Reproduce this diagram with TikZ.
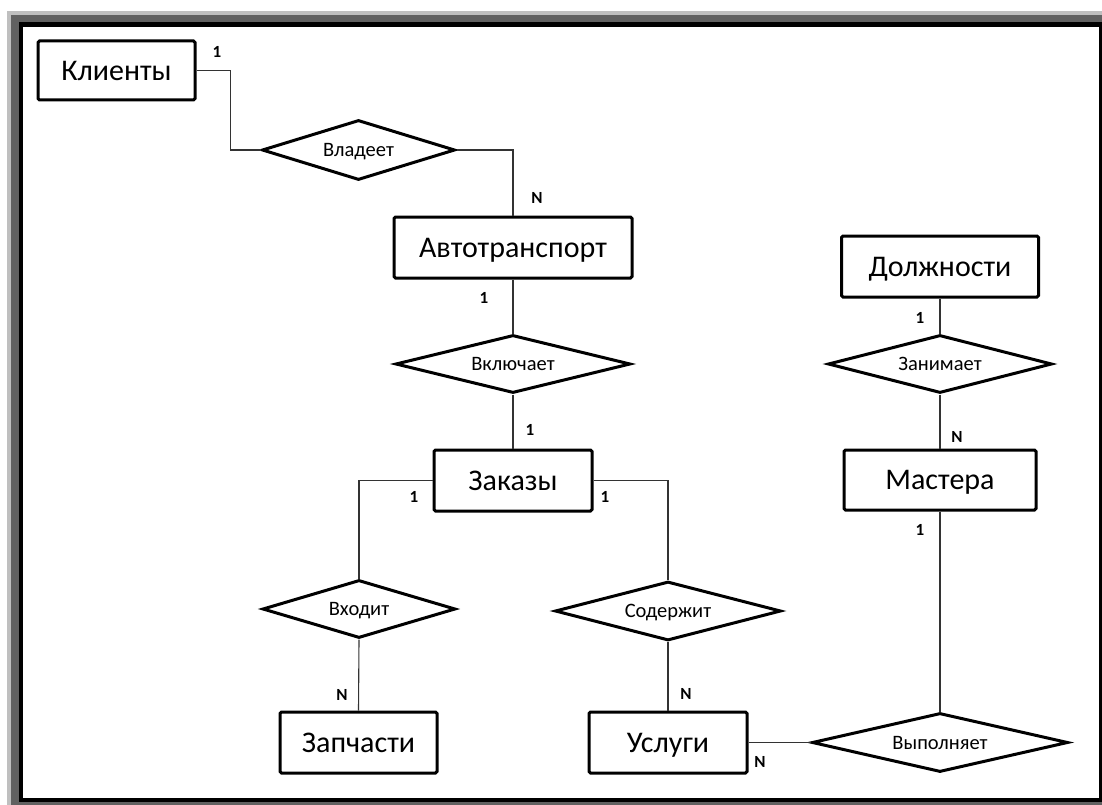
\documentclass[tikz,border=0pt]{standalone}
\usepackage{fontspec}
\setmainfont{Carlito}
\usetikzlibrary{shapes.geometric}
\begin{document}
\begin{tikzpicture}[x=1pt,y=-1pt,
  entity/.style={draw=black,line width=3pt,rounded corners=1.5pt,fill=white,
    inner sep=0pt,text height=19.3pt,text depth=0pt,font=\fontsize{30}{32}\selectfont},
  relation/.style={diamond,draw=black,line width=3pt,fill=white,inner sep=0pt,
    aspect=5,text height=13.2pt,text depth=0pt,font=\fontsize{20.5}{22}\selectfont},
  link/.style={draw=black!80,line width=1.1pt},
  card/.style={inner sep=0pt,text height=11pt,text depth=0pt,
    font=\fontsize{17}{18}\selectfont\bfseries}]
\useasboundingbox (0,0) rectangle (1102,805);
% window frame with shadow
\fill[white] (0,0) rectangle (1102,805);
\fill[black!25] (7,11) rectangle (1102,805);
\fill[black!62] (11,15) rectangle (1102,805);
\fill[black] (19,22) rectangle (1102,802);
\fill[white] (23,27) rectangle (1099,798);

% entities
\node[entity,minimum width=157,minimum height=59] (klient) at (116.5,70.5) {Клиенты};
\node[entity,minimum width=238,minimum height=61] (avto) at (513,247.5) {Автотранспорт};
\node[entity,minimum width=158,minimum height=61] (zakaz) at (513,480.5) {Заказы};
\node[entity,minimum width=197,minimum height=61] (dolzh) at (940,266.5) {Должности};
\node[entity,minimum width=192,minimum height=60] (master) at (940,480) {Мастера};
\node[entity,minimum width=157,minimum height=61] (zapch) at (358.5,742.5) {Запчасти};
\node[entity,minimum width=158,minimum height=61] (usl) at (668,742.5) {Услуги};

% relationships
\node[relation,minimum width=193,minimum height=60] (vlad) at (358.5,150) {Владеет};
\node[relation,minimum width=235,minimum height=58] (vkl) at (513,364) {Включает};
\node[relation,minimum width=193,minimum height=58] (vhod) at (359,609) {Входит};
\node[relation,minimum width=226,minimum height=59] (sod) at (668,611) {Содержит};
\node[relation,minimum width=224,minimum height=58] (zan) at (940,364) {Занимает};
\node[relation,minimum width=256,minimum height=59] (vyp) at (940,742.5) {Выполняет};

% connectors
\draw[link] (klient.east) -- ++(34,0) |- (vlad.west);
\draw[link] (vlad.east) -| (avto.north);
\draw[link] (avto.south) -- (vkl.north);
\draw[link] (vkl.south) -- (zakaz.north);
\draw[link] (zakaz.west) -| (vhod.north);
\draw[link] (zakaz.east) -| (sod.north);
\draw[link] (vhod.south) -- (zapch.north);
\draw[link] (sod.south) -- (usl.north);
\draw[link] (usl.east) -- (vyp.west);
\draw[link] (dolzh.south) -- (zan.north);
\draw[link] (zan.south) -- (master.north);
\draw[link] (master.south) -- (vyp.north);

% cardinalities
\node[card] (c1) at (217,52) {1};
\node[card] (c2) at (537,198) {N};
\node[card] (c3) at (484,298) {1};
\node[card] (c4) at (530,430) {1};
\node[card] (c5) at (414,497) {1};
\node[card] (c6) at (605,497) {1};
\node[card] (c7) at (342,695) {N};
\node[card] (c8) at (686,694) {N};
\node[card] (c9) at (760,762) {N};
\node[card] (c10) at (920,318) {1};
\node[card] (c11) at (957,437) {N};
\node[card] (c12) at (920,530) {1};
\end{tikzpicture}
\end{document}
